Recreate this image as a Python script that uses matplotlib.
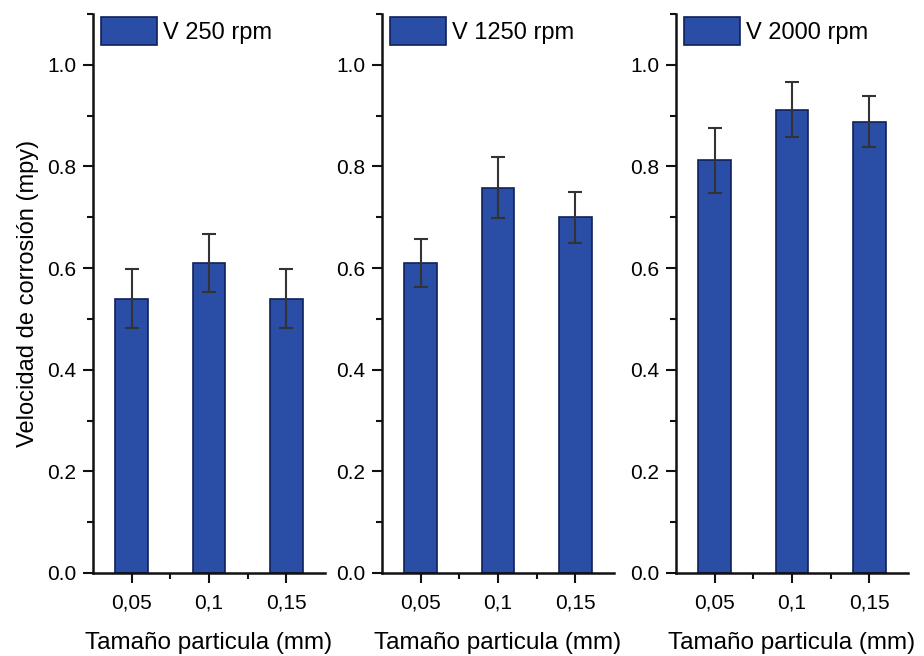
import matplotlib
matplotlib.use("Agg")
import matplotlib.pyplot as plt
from matplotlib.ticker import FixedLocator
import numpy as np

plt.rcParams['font.family'] = ['Liberation Sans', 'DejaVu Sans']

categories = ["0,05", "0,1", "0,15"]
speeds = ["V 250 rpm", "V 1250 rpm", "V 2000 rpm"]
values_250 = [0.54, 0.61, 0.54]
errors_250 = [0.058, 0.058, 0.058]
values_1250 = [0.61, 0.758, 0.70]
errors_1250 = [0.048, 0.06, 0.05]
values_2000 = [0.812, 0.912, 0.888]
errors_2000 = [0.064, 0.055, 0.05]

series = [(values_250, errors_250), (values_1250, errors_1250), (values_2000, errors_2000)]

fig = plt.figure(figsize=(9.24, 6.56), dpi=100)
lefts = [93, 382, 676]
bar_color = "#2A4DA6"
edge_color = "#10205A"

for i, (vals, errs) in enumerate(series):
    ax = fig.add_axes([lefts[i] / 924, 1 - 573 / 656, 232 / 924, (573 - 14) / 656])
    x = np.arange(len(categories))
    ax.bar(x, vals, width=0.42, color=bar_color, edgecolor=edge_color, linewidth=1.2,
           label=speeds[i], zorder=2)
    ax.errorbar(x, vals, yerr=errs, fmt='none', ecolor='#333333', elinewidth=1.5,
                capsize=5, capthick=1.5, zorder=3)
    ax.set_xlim(-0.5, 2.5)
    ax.set_ylim(0, 1.1)
    ax.set_xticks(x)
    ax.set_xticklabels(categories)
    ax.xaxis.set_minor_locator(FixedLocator([0.5, 1.5]))
    ax.yaxis.set_major_locator(FixedLocator([0.0, 0.2, 0.4, 0.6, 0.8, 1.0]))
    ax.set_yticklabels(["0.0", "0.2", "0.4", "0.6", "0.8", "1.0"])
    ax.yaxis.set_minor_locator(FixedLocator([0.1, 0.3, 0.5, 0.7, 0.9, 1.1]))
    for s in ['top', 'right']:
        ax.spines[s].set_visible(False)
    for s in ['left', 'bottom']:
        ax.spines[s].set_linewidth(1.8)
        ax.spines[s].set_color('#111111')
    ax.tick_params(axis='both', which='major', direction='out', length=7, width=1.5,
                   labelsize=15, pad=5, color='#111111')
    ax.tick_params(axis='x', which='major', pad=8)
    ax.tick_params(axis='both', which='minor', direction='out', length=4, width=1.5,
                   color='#111111')
    ax.set_xlabel("Tamaño particula (mm)", fontsize=17.5, labelpad=14)
    if i == 0:
        ax.set_ylabel("Velocidad de corrosión (mpy)", fontsize=17, labelpad=6)
    ax.legend(loc='upper left', frameon=False, fontsize=17, handlelength=2.37,
              handleheight=1.45, handletextpad=0.25, borderaxespad=0.0,
              borderpad=0.0, bbox_to_anchor=(8 / 232, 1 - 3 / 559))

fig.savefig("out.png", dpi=100)
